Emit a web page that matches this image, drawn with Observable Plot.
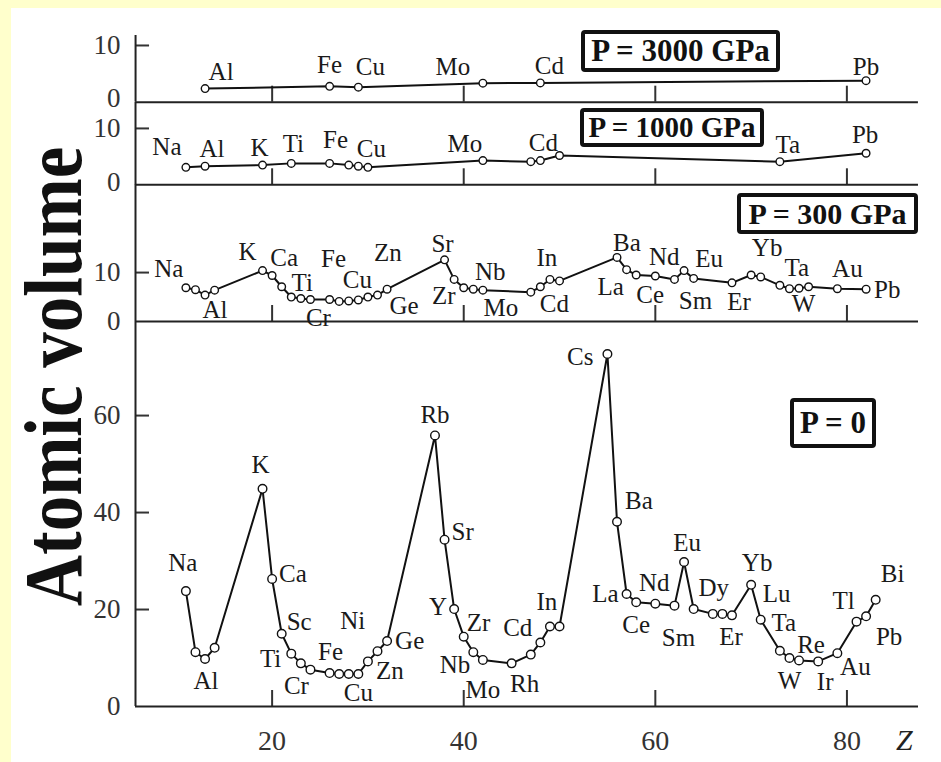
<!DOCTYPE html>
<html><head><meta charset="utf-8">
<script src="https://cdn.jsdelivr.net/npm/d3@7"></script>
<script src="https://cdn.jsdelivr.net/npm/@observablehq/plot@0.6"></script>
<style>
body{margin:0;background:#fff}
#wrap{position:relative;width:941px;height:762px;background:#FFFFCC;overflow:hidden;font-family:'Liberation Serif','Times New Roman',serif}
#inner{position:absolute;left:11px;top:8px;right:0;bottom:0;background:#fff}
.pan{position:absolute;left:0}
.box{position:absolute;box-sizing:border-box;border:4px solid #111;border-radius:4px;display:flex;align-items:center;justify-content:center;font-weight:bold;color:#111;white-space:nowrap;background:#fff}
#ylab{position:absolute;width:600px;height:71px;line-height:71px;font-size:71px;font-weight:bold;text-align:center;color:#111;white-space:nowrap;transform:rotate(-90deg) scale(1,1.15)}
#zlab{position:absolute;font-size:30px;font-style:italic;color:#222}
</style></head><body>
<div id="wrap"><div id="inner"></div></div>
<script>
// ---- data ----
const ZOF = {Na:11,Mg:12,Al:13,Si:14,K:19,Ca:20,Sc:21,Ti:22,V:23,Cr:24,Fe:26,Co:27,Ni:28,Cu:29,Zn:30,Ga:31,Ge:32,
  Rb:37,Sr:38,Y:39,Zr:40,Nb:41,Mo:42,Rh:45,Ag:47,Cd:48,In:49,Sn:50,Cs:55,Ba:56,La:57,Ce:58,Nd:60,Sm:62,Eu:63,Gd:64,
  Dy:66,Ho:67,Er:68,Yb:70,Lu:71,Ta:73,W:74,Re:75,Os:76,Ir:77,Au:79,Tl:81,Pb:82,Bi:83};

const z3000 = [13,26,29,42,48,82];
const v3000 = [2.4,2.8,2.65,3.35,3.4,3.8];
const lab3000 = ["Al","Fe","Cu","Mo","Cd","Pb"];

const z1000 = [11,13,19,22,26,28,29,30,42,47,48,50,73,82];
const v1000 = [3.1,3.3,3.5,3.8,3.8,3.5,3.3,3.1,4.3,4.1,4.3,5.2,4.1,5.6];
const lab1000 = ["Na","Al","K","Ti","Fe","Cu","Mo","Cd","Ta","Pb"];

const z300 = [11,12,13,14,19,20,21,22,23,24,26,27,28,29,30,31,32,38,39,40,41,42,47,48,49,50,56,57,58,60,62,63,64,68,70,71,73,74,75,76,79,82];
const v300 = [6.9,6.5,5.4,6.4,10.4,9.4,7.1,5.0,4.7,4.5,4.5,4.1,4.2,4.4,5.0,5.4,6.6,12.6,8.6,6.9,6.6,6.4,6.0,7.1,8.6,8.3,13.1,10.6,9.5,9.3,8.6,10.4,8.8,7.9,9.5,9.1,7.4,6.7,6.8,7.1,6.7,6.6];
const lab300 = ["Na","Al","K","Ca","Ti","Cr","Fe","Cu","Zn","Ge","Sr","Zr","Nb","Mo","In","Cd","Ba","La","Nd","Ce","Eu","Sm","Er","Yb","Ta","W","Au","Pb"];

const zP0 = [11,12,13,14,19,20,21,22,23,24,26,27,28,29,30,31,32,37,38,39,40,41,42,45,47,48,49,50,55,56,57,58,60,62,63,64,66,67,68,70,71,73,74,75,77,79,81,82,83];
const vP0 = [23.8,11.2,9.8,12.1,44.9,26.3,15.0,10.9,8.9,7.6,6.9,6.7,6.7,6.7,9.3,11.4,13.5,55.9,34.4,20.1,14.4,11.2,9.6,8.9,10.7,13.2,16.5,16.5,72.7,38.1,23.2,21.5,21.2,20.8,29.8,20.1,19.1,19.1,18.8,25.1,17.9,11.5,10.0,9.5,9.3,11.0,17.5,18.6,22.0];
const labP0 = ["Na","Al","K","Ca","Sc","Ti","Cr","Fe","Ni","Cu","Zn","Ge","Rb","Sr","Y","Zr","Nb","Mo","Cd","Rh","In","Cs","Ba","La","Ce","Nd","Sm","Eu","Dy","Er","Yb","Lu","Ta","W","Re","Ir","Au","Tl","Pb","Bi"];

const pressures = ["P = 3000 GPa","P = 1000 GPa","P = 300 GPa","P = 0"];
const xTicks = [20,40,60,80];

// ---- label placement (pixel offsets, anchor) ----
const place3000 = {Al:[16,-17],Fe:[0,-21],Cu:[12,-20],Mo:[-30,-16],Cd:[9,-17],Pb:[0,-14]};
const place1000 = {Na:[-19,-20],Al:[7,-17],K:[-3,-17],Ti:[2,-19],Fe:[6,-23],Cu:[13,-17],Mo:[-18,-17],Cd:[3,-18],Ta:[8,-17],Pb:[-1,-18]};
const place300 = {Na:[-17,-19],Al:[10,15],K:[-15,-19],Ca:[12,-18],Ti:[11,-14],Cr:[8,19],Fe:[4,-40],Cu:[-1,-20],Zn:[20,-44],Ge:[17,17],
  Sr:[-2,-16],Zr:[-20,8],Nb:[17,-17],Mo:[18,18],In:[-3,-21],Cd:[14,17],Ba:[10,-14],La:[-16,17],Nd:[9,-19],Ce:[14,20],Eu:[25,-12],
  Sm:[21,22],Er:[7,19],Yb:[16,-27],Ta:[17,-17],W:[14,15],Au:[10,-20],Pb:[8,1,"start"]};
const placeP0 = {Na:[-3,-28],Al:[1,22],K:[-2,-24],Ca:[7,-5,"start"],Sc:[5,-12,"start"],Ti:[-10,5,"end"],Cr:[-14,16],Fe:[1,-21],
  Ni:[4,-53],Cu:[0,19],Zn:[8,10,"start"],Ge:[8,0,"start"],Rb:[0,-20],Sr:[7,-8,"start"],Y:[-7,-2,"end"],Zr:[3,-14,"start"],
  Nb:[-3,13,"end"],Mo:[0,30],Cd:[-8,-14,"end"],Rh:[13,21],In:[-3,-24],Cs:[-14,3,"end"],Ba:[8,-21,"start"],La:[-8,0,"end"],
  Ce:[0,23],Nd:[-1,-21],Sm:[4,32],Eu:[3,-19],Dy:[1,-26],Er:[-1,22],Yb:[6,-22],Lu:[2,-26,"start"],Ta:[4,-28],W:[0,23],
  Re:[12,-15],Ir:[7,21],Au:[18,14],Tl:[-13,-21],Pb:[23,21],Bi:[17,-26]};

// ---- layout ----
const X0 = 5.74, X1 = 87.47;
const panels = [
  {z:z3000,v:v3000,labels:lab3000,place:place3000,top:35,bottom:101.7,ymax:11.76,yticks:[10],zeroDy:-4,r:3.8,xlab:false},
  {z:z1000,v:v1000,labels:lab1000,place:place1000,top:101.7,bottom:184,ymax:14.6,yticks:[10],zeroDy:-2,r:3.8,xlab:false},
  {z:z300,v:v300,labels:lab300,place:place300,top:184,bottom:321,ymax:28.0,yticks:[10],zeroDy:0,r:3.8,xlab:false},
  {z:zP0,v:vP0,labels:labP0,place:placeP0,top:321,bottom:706,ymax:79.4,yticks:[20,40,60],zeroDy:0,r:4.3,xlab:true}
];
const boxes = [
  {l:581,t:30,w:199,h:42,fs:31},
  {l:580,t:108,w:184,h:39,fs:29},
  {l:737,t:193,w:181,h:41,fs:30},
  {l:790,t:398,w:86,h:50,fs:31}
];

const wrap = document.getElementById("wrap");
const ink = "#111";
const tickFont = 27;

panels.forEach((p) => {
  const h = p.bottom - p.top;
  const mb = p.xlab ? 56 : 0;
  const data = p.z.map((Z, i) => ({Z, V: p.v[i]}));
  const labelMarks = p.labels.map((s) => {
    const Z = ZOF[s];
    const V = p.v[p.z.indexOf(Z)];
    const [dx, dy, anchor] = p.place[s] || [0, -18];
    return Plot.text([{s, Z, V}], {x: "Z", y: "V", text: "s", dx, dy, textAnchor: anchor || "middle",
      fontSize: 25, fill: "#1a1a1a", fontFamily: "'Liberation Serif', serif"});
  });
  const chart = Plot.plot({
    width: 941, height: h + mb,
    marginTop: 0, marginBottom: mb, marginLeft: 135, marginRight: 23,
    x: {domain: [X0, X1]},
    y: {domain: [0, p.ymax]},
    style: {fontFamily: "'Liberation Serif', serif", overflow: "visible", background: "none"},
    marks: [
      Plot.axisY({ticks: p.yticks, tickSize: -14, tickPadding: 29, label: null, fontSize: tickFont, color: "#333", strokeWidth: 2}),
      Plot.axisY({ticks: [0], tickSize: 0, tickPadding: 15, dy: p.zeroDy, label: null, fontSize: tickFont, color: "#333"}),
      Plot.axisX({ticks: xTicks, tickSize: -16, tickPadding: 40, label: null, fontSize: 28, color: "#333", strokeWidth: 2,
        tickFormat: p.xlab ? (d) => String(d) : () => ""}),
      Plot.ruleY([0], {stroke: "#222", strokeWidth: 2}),
      Plot.ruleX([X0], {stroke: "#222", strokeWidth: 2}),
      Plot.line(data, {x: "Z", y: "V", stroke: ink, strokeWidth: 2}),
      Plot.dot(data, {x: "Z", y: "V", r: p.r, fill: "white", stroke: ink, strokeWidth: 1.4}),
      ...labelMarks
    ]
  });
  const holder = document.createElement("div");
  holder.className = "pan";
  holder.style.top = p.top + "px";
  holder.appendChild(chart);
  wrap.appendChild(holder);
});

boxes.forEach((b, i) => {
  const d = document.createElement("div");
  d.className = "box";
  Object.assign(d.style, {left: b.l + "px", top: b.t + "px", width: b.w + "px", height: b.h + "px", fontSize: b.fs + "px"});
  d.textContent = pressures[i];
  wrap.appendChild(d);
});

const yl = document.createElement("div");
yl.id = "ylab";
yl.style.left = (54 - 300) + "px";
yl.style.top = (376 - 35.5) + "px";
yl.textContent = "Atomic volume";
wrap.appendChild(yl);

const zl = document.createElement("div");
zl.id = "zlab";
zl.style.left = "896px";
zl.style.top = "723px";
zl.textContent = "Z";
wrap.appendChild(zl);
</script></body></html>
